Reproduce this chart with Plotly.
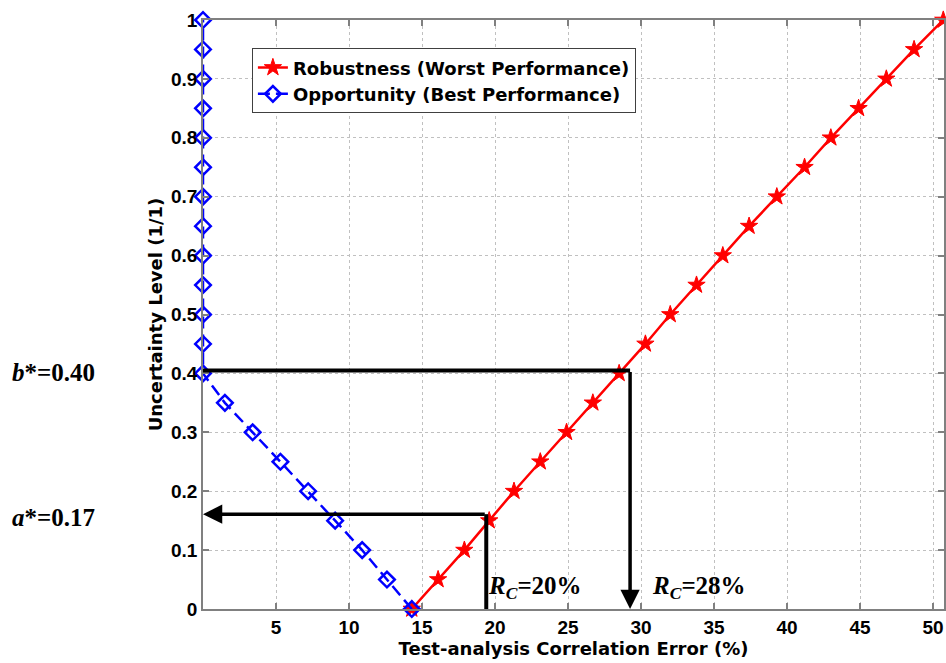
import plotly.graph_objects as go

# ---- data ----
uncertainty_levels = [0.00, 0.05, 0.10, 0.15, 0.20, 0.25, 0.30, 0.35, 0.40, 0.45, 0.50,
                      0.55, 0.60, 0.65, 0.70, 0.75, 0.80, 0.85, 0.90, 0.95, 1.00]
robustness_error = [14.3, 16.1, 17.9, 19.6, 21.3, 23.1, 24.9, 26.7, 28.5, 30.3, 32.0,
                    33.8, 35.6, 37.4, 39.3, 41.2, 43.0, 44.9, 46.8, 48.7, 50.7]
opportunity_error = [14.3, 12.6, 10.9, 9.05, 7.2, 5.3, 3.4, 1.5, 0.0, 0.0, 0.0,
                     0.0, 0.0, 0.0, 0.0, 0.0, 0.0, 0.0, 0.0, 0.0, 0.0]

x_tick_vals = [5, 10, 15, 20, 25, 30, 35, 40, 45, 50]
x_tick_text = ["5", "10", "15", "20", "25", "30", "35", "40", "45", "50"]
y_tick_vals = [0, 0.1, 0.2, 0.3, 0.4, 0.5, 0.6, 0.7, 0.8, 0.9, 1.0]
y_tick_text = ["0", "0.1", "0.2", "0.3", "0.4", "0.5", "0.6", "0.7", "0.8", "0.9", "1"]

# guide lines (decision points)
a_star_level = 0.161
b_star_level = 0.405
rc_a = 19.4
rc_b = 29.25
a_star_label = "<i><b>a</b></i><b>*=0.17</b>"
b_star_label = "<i><b>b</b></i><b>*=0.40</b>"
rc_a_label = "<i><b>R</b></i><sub><i><b>C</b></i></sub><b>=20%</b>"
rc_b_label = "<i><b>R</b></i><sub><i><b>C</b></i></sub><b>=28%</b>"

SANS = "Liberation Sans, Arial, sans-serif"
WIDE = "DejaVu Sans, Liberation Sans, sans-serif"
SERIF = "Liberation Serif, Times New Roman, serif"

fig = go.Figure()
fig.add_trace(go.Scatter(
    x=robustness_error, y=uncertainty_levels, mode="lines+markers",
    name="<b>Robustness (Worst Performance)</b>",
    line=dict(color="#ff0000", width=2.5),
    marker=dict(symbol="star", size=13, color="#ff0000", line=dict(color="#ff0000", width=1)),
    cliponaxis=False,
))
fig.add_trace(go.Scatter(
    x=opportunity_error, y=uncertainty_levels, mode="lines+markers",
    name="<b>Opportunity (Best Performance)</b>",
    line=dict(color="#0000ff", width=2.5, dash="12px,6px"),
    marker=dict(symbol="diamond-open", size=12, color="#0000ff", line=dict(color="#0000ff", width=2.5)),
    cliponaxis=False,
))

# guide line segments
fig.add_shape(type="line", xref="x", yref="y", x0=0, x1=rc_b, y0=b_star_level, y1=b_star_level,
              line=dict(color="black", width=4))
fig.add_shape(type="line", xref="x", yref="y", x0=rc_a, x1=rc_a, y0=0, y1=a_star_level,
              line=dict(color="black", width=4))
# arrows
fig.add_annotation(x=rc_b, y=0, ax=rc_b, ay=b_star_level, xref="x", yref="y", axref="x", ayref="y",
                   text="", showarrow=True, arrowhead=2, arrowsize=1.1, arrowwidth=3.5,
                   arrowcolor="black", standoff=0)
fig.add_annotation(x=0, y=a_star_level, ax=rc_a, ay=a_star_level, xref="x", yref="y", axref="x", ayref="y",
                   text="", showarrow=True, arrowhead=2, arrowsize=1.1, arrowwidth=3.5,
                   arrowcolor="black", standoff=0)

# labels
fig.add_annotation(x=-0.260, y=0.402, xref="paper", yref="y", text=b_star_label, showarrow=False,
                   xanchor="left", yanchor="middle", font=dict(family=SERIF, size=25, color="black"))
fig.add_annotation(x=-0.260, y=0.155, xref="paper", yref="y", text=a_star_label, showarrow=False,
                   xanchor="left", yanchor="middle", font=dict(family=SERIF, size=25, color="black"))
fig.add_annotation(x=rc_a - 0.05, y=0.036, xref="x", yref="y", text=rc_a_label, showarrow=False,
                   xanchor="left", yanchor="middle", font=dict(family=SERIF, size=25, color="black"))
fig.add_annotation(x=30.6, y=0.036, xref="x", yref="y", text=rc_b_label, showarrow=False,
                   xanchor="left", yanchor="middle", font=dict(family=SERIF, size=25, color="black"))

axis_common = dict(
    showline=True, linecolor="#808080", linewidth=1.5, mirror="ticks",
    ticks="inside", ticklen=6, tickcolor="#808080", tickwidth=1.5,
    showgrid=True, gridcolor="#c0c0c0", griddash="dot", gridwidth=1,
    zeroline=False,
    tickfont=dict(family=SANS, size=19, color="black"),
)
fig.update_xaxes(range=[0, 50.75], tickvals=x_tick_vals, ticktext=["<b>%s</b>" % t for t in x_tick_text],
                 title=dict(text="<b>Test-analysis Correlation Error (%)</b>",
                            font=dict(family=WIDE, size=18, color="black"), standoff=6),
                 **axis_common)
fig.update_yaxes(range=[0, 1], tickvals=y_tick_vals, ticktext=["<b>%s</b>" % t for t in y_tick_text],
                 title=dict(text="<b>Uncertainty Level (1/1)</b>",
                            font=dict(family=WIDE, size=18, color="black"), standoff=4),
                 **axis_common)

fig.update_layout(
    width=946, height=663,
    margin=dict(l=203, r=0, t=20, b=54),
    plot_bgcolor="white", paper_bgcolor="white",
    showlegend=True,
    legend=dict(x=0.066, y=0.952, xanchor="left", yanchor="top",
                bgcolor="white", bordercolor="#404040", borderwidth=1,
                font=dict(family=WIDE, size=18, color="black"),
                tracegroupgap=0, itemwidth=30),
)

# remove the page's default 8px body margin so the figure fills the window exactly
fig.write_html("out.html",
               config={"displayModeBar": False},
               post_script="document.body.style.margin='0';document.body.style.overflow='hidden';")
